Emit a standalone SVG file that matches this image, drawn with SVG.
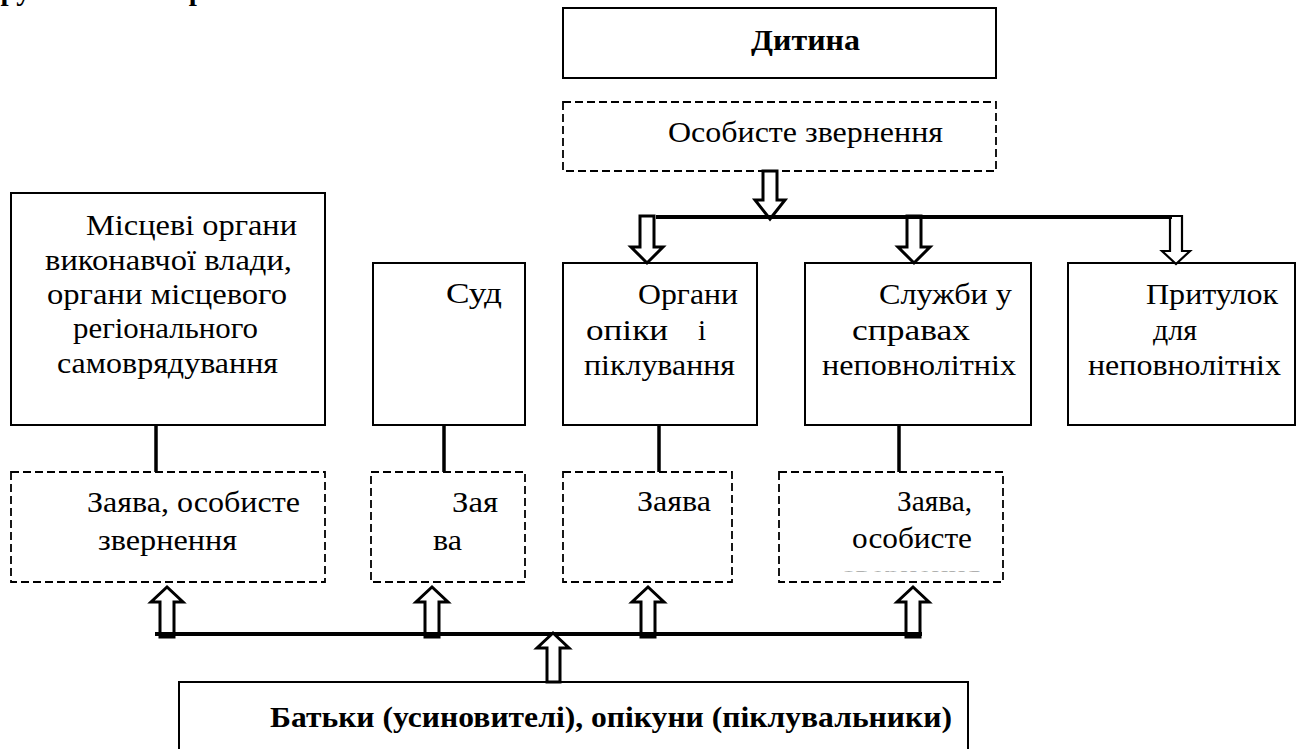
<svg xmlns="http://www.w3.org/2000/svg" width="1300" height="749" viewBox="0 0 1300 749">
<style>
.box{fill:#fff;stroke:#000;stroke-width:2}
.dash{fill:#fff;stroke:#000;stroke-width:1.8;stroke-dasharray:8 4}
.t{font-family:'Liberation Serif','DejaVu Serif',serif;font-size:29px;fill:#000}
.b{font-family:'Liberation Serif','DejaVu Serif',serif;font-size:29px;font-weight:bold;fill:#000}
.arr{fill:#fff;stroke:#000;stroke-width:3;stroke-linejoin:miter}
.arr2{fill:#fff;stroke:#000;stroke-width:2.2}
.ln{stroke:#000;stroke-width:4;fill:none}
.stub{stroke:#000;stroke-width:3.5;fill:none}
</style>
<defs>
<clipPath id="cut"><rect x="780" y="565" width="220" height="6.5"/></clipPath>
</defs>
<rect width="1300" height="749" fill="#fff"/>
<text class="b" y="0"><tspan x="-16">Групи</tspan><tspan x="172">права</tspan></text>

<g id="n-dytyna"><rect class="box" x="563" y="8" width="433" height="70"/><text class="b" x="751" y="50" textLength="109" lengthAdjust="spacingAndGlyphs">Дитина</text></g>
<g id="n-osobyste"><rect class="dash" x="563" y="102" width="433" height="69"/><text class="t" x="668" y="142" textLength="275" lengthAdjust="spacingAndGlyphs">Особисте звернення</text></g>

<g id="n-mistsevi"><rect class="box" x="11" y="193" width="314" height="232"/>
<text class="t" x="86" y="235" textLength="211" lengthAdjust="spacingAndGlyphs">Місцеві органи</text>
<text class="t" x="45" y="270" textLength="247" lengthAdjust="spacingAndGlyphs">виконавчої влади,</text>
<text class="t" x="47" y="304" textLength="240" lengthAdjust="spacingAndGlyphs">органи місцевого</text>
<text class="t" x="73" y="338" textLength="185" lengthAdjust="spacingAndGlyphs">регіонального</text>
<text class="t" x="57" y="373" textLength="221" lengthAdjust="spacingAndGlyphs">самоврядування</text></g>
<g id="n-sud"><rect class="box" x="373" y="263" width="152" height="162"/><text class="t" x="446" y="303" textLength="56" lengthAdjust="spacingAndGlyphs">Суд</text></g>
<g id="n-orhany"><rect class="box" x="563" y="263" width="194" height="162"/>
<text class="t" x="638" y="304" textLength="100" lengthAdjust="spacingAndGlyphs">Органи</text>
<text class="t" x="586" y="340" textLength="82" lengthAdjust="spacingAndGlyphs">опіки</text>
<text class="t" x="698" y="340">і</text>
<text class="t" x="584" y="375" textLength="151" lengthAdjust="spacingAndGlyphs">піклування</text></g>
<g id="n-sluzhby"><rect class="box" x="805" y="263" width="226" height="162"/>
<text class="t" x="879" y="304" textLength="133" lengthAdjust="spacingAndGlyphs">Служби у</text>
<text class="t" x="852" y="340" textLength="118" lengthAdjust="spacingAndGlyphs">справах</text>
<text class="t" x="822" y="375" textLength="194" lengthAdjust="spacingAndGlyphs">неповнолітніх</text></g>
<g id="n-prytulok"><rect class="box" x="1068" y="263" width="227" height="162"/>
<text class="t" x="1146" y="304" textLength="132" lengthAdjust="spacingAndGlyphs">Притулок</text>
<text class="t" x="1153" y="340" textLength="44" lengthAdjust="spacingAndGlyphs">для</text>
<text class="t" x="1088" y="375" textLength="193" lengthAdjust="spacingAndGlyphs">неповнолітніх</text></g>

<g id="n-zayava1"><rect class="dash" x="11" y="472" width="314" height="110"/>
<text class="t" x="87" y="512" textLength="213" lengthAdjust="spacingAndGlyphs">Заява, особисте</text>
<text class="t" x="98" y="550" textLength="139" lengthAdjust="spacingAndGlyphs">звернення</text></g>
<g id="n-zayava2"><rect class="dash" x="371" y="472" width="154" height="110"/>
<text class="t" x="452" y="512" textLength="46" lengthAdjust="spacingAndGlyphs">Зая</text>
<text class="t" x="433" y="550" textLength="29" lengthAdjust="spacingAndGlyphs">ва</text></g>
<g id="n-zayava3"><rect class="dash" x="563" y="472" width="169" height="110"/><text class="t" x="637" y="511" textLength="74" lengthAdjust="spacingAndGlyphs">Заява</text></g>
<g id="n-zayava4"><rect class="dash" x="779" y="472" width="224" height="110"/>
<text class="t" x="897" y="511" textLength="75" lengthAdjust="spacingAndGlyphs">Заява,</text>
<text class="t" x="852" y="548" textLength="120" lengthAdjust="spacingAndGlyphs">особисте</text>
<text class="t" x="843" y="585" textLength="137" lengthAdjust="spacingAndGlyphs" clip-path="url(#cut)" fill-opacity="0.6">звернення</text></g>

<g id="n-batky"><rect class="box" x="179" y="682" width="789" height="80"/><text class="b" x="270" y="727" textLength="682" lengthAdjust="spacingAndGlyphs">Батьки (усиновителі), опікуни (піклувальники)</text></g>

<g id="connectors">
<line class="stub" x1="156" y1="425" x2="156" y2="472"/>
<line class="stub" x1="444" y1="425" x2="444" y2="472"/>
<line class="stub" x1="659" y1="425" x2="659" y2="472"/>
<line class="stub" x1="899" y1="425" x2="899" y2="472"/>

<path class="arr" d="M763,171 L777,171 L777,200 L785,200 L770,219 L755,200 L763,200 Z"/>
<path class="arr" d="M640,216 L654,216 L654,247 L663,247 L647,263 L631,247 L640,247 Z"/>
<path class="arr" d="M907,216 L921,216 L921,247 L930,247 L914,263 L898,247 L907,247 Z"/>
<path class="arr2" d="M1170,216 L1182,216 L1182,251 L1190,251 L1176,264 L1162,251 L1170,251 Z"/>
<line class="ln" x1="656" y1="217" x2="1172" y2="217"/>

<path class="arr" d="M160,637 L160,602 L151,602 L167,587 L183,602 L174,602 L174,637 Z"/>
<path class="arr" d="M425,637 L425,602 L416,602 L432,587 L448,602 L439,602 L439,637 Z"/>
<path class="arr" d="M641,637 L641,602 L632,602 L648,587 L664,602 L655,602 L655,637 Z"/>
<path class="arr" d="M906,637 L906,602 L897,602 L913,587 L929,602 L920,602 L920,637 Z"/>
<line class="ln" x1="155" y1="634" x2="922" y2="634"/>
<path class="arr" d="M547,682 L547,648 L537,648 L553,633 L569,648 L560,648 L560,682 Z"/>
</g>
</svg>
